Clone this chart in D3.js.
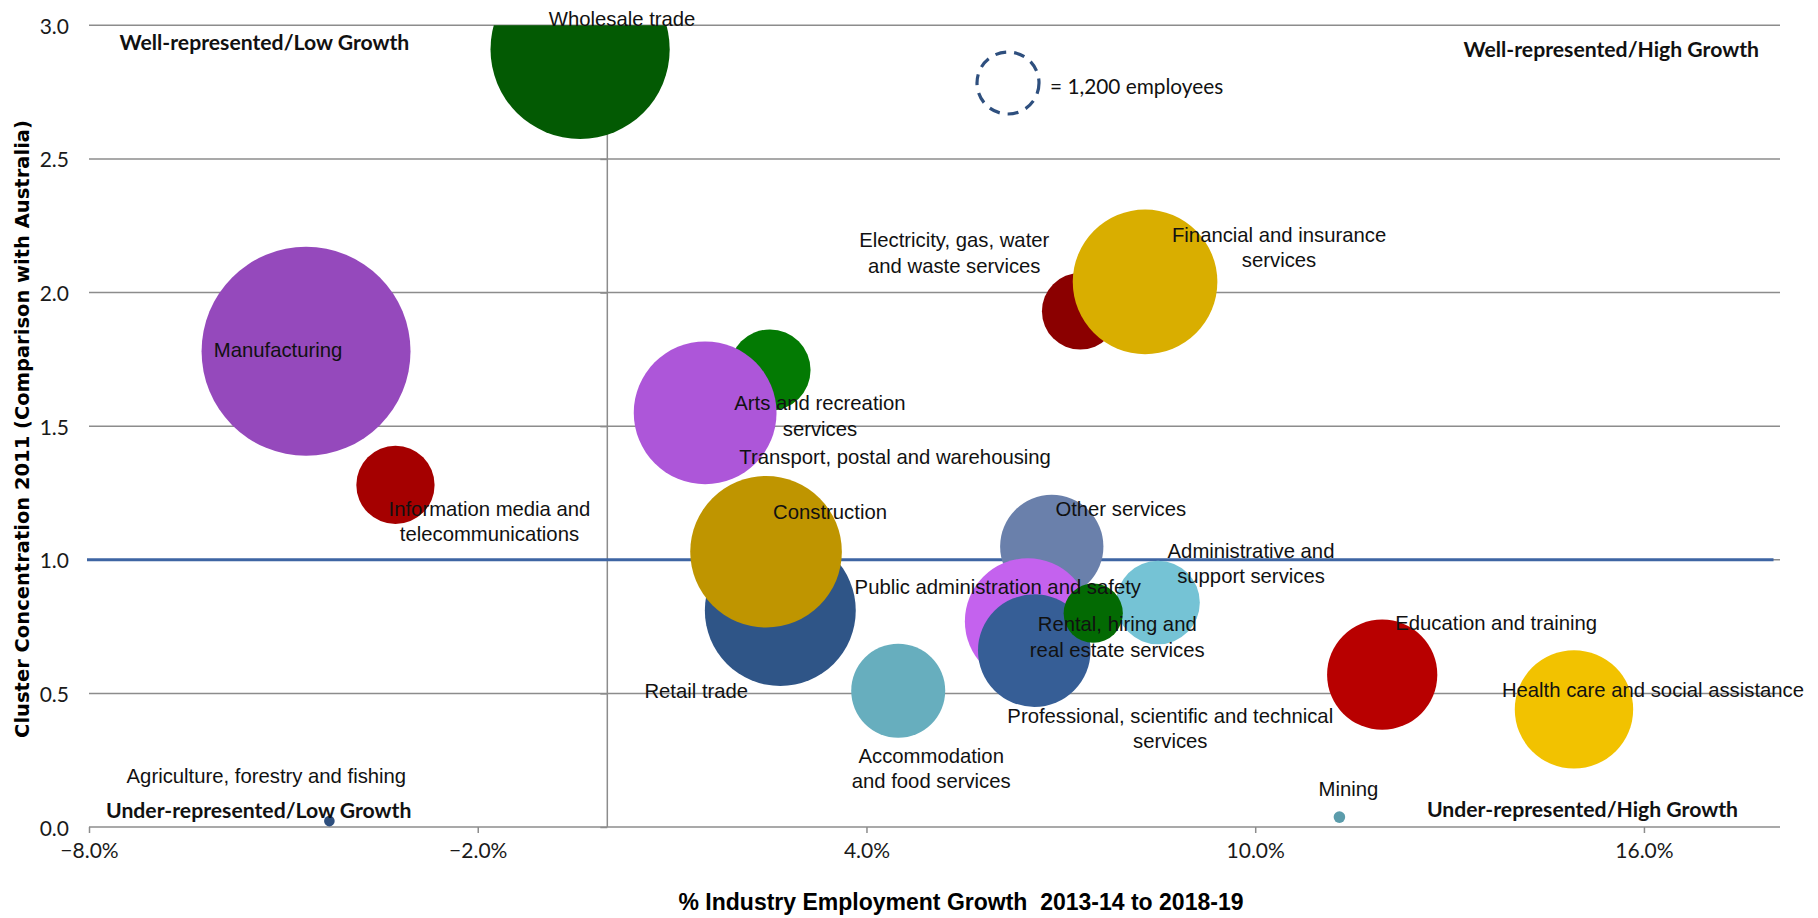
<!DOCTYPE html>
<html>
<head>
<meta charset="utf-8">
<script src="https://cdn.jsdelivr.net/npm/d3@7/dist/d3.min.js"></script>
<style>
  html, body { margin: 0; padding: 0; background: #fff; }
  svg { display: block; }
</style>
</head>
<body>
<svg id="chart" width="1818" height="918"></svg>
<script>
// ---------------- DATA ----------------
const categories = [
  "Agriculture, forestry and fishing", "Mining", "Manufacturing",
  "Electricity, gas, water and waste services", "Construction", "Wholesale trade",
  "Retail trade", "Accommodation and food services", "Transport, postal and warehousing",
  "Information media and telecommunications", "Financial and insurance services",
  "Rental, hiring and real estate services", "Professional, scientific and technical services",
  "Administrative and support services", "Public administration and safety",
  "Education and training", "Health care and social assistance",
  "Arts and recreation services", "Other services"
];
// % industry employment growth 2013-14 to 2018-19
const growth = [-4.29, 11.30, -4.65, 7.30, 2.45, -0.42, 2.67, 4.49, 1.51, -3.27, 8.30, 7.50, 6.59, 8.50, 6.49, 11.96, 14.92, 2.51, 6.86];
// Cluster concentration 2011 (comparison with Australia)
const concentration = [0.022, 0.037, 1.78, 1.93, 1.03, 2.91, 0.81, 0.51, 1.55, 1.28, 2.04, 0.80, 0.66, 0.84, 0.77, 0.57, 0.44, 1.71, 1.05];
// employees (bubble size)
const employees = [32, 38, 12400, 1670, 6530, 9120, 6470, 2510, 5790, 1740, 5940, 995, 3600, 1985, 4500, 3450, 3980, 1875, 3030];
const colors = ["#2e4f7e", "#5b9cab", "#9549bc", "#8b0000", "#bf9500", "#035a03", "#2f5587", "#67aebe", "#ad56d9", "#a50000", "#d9ae00", "#036a03", "#365e96", "#75c3d5", "#c462ee", "#b80000", "#f2c200", "#037a03", "#6a80ab"];
const labelLines = [
  ["Agriculture, forestry and fishing"], ["Mining"], ["Manufacturing"],
  ["Electricity, gas, water", "and waste services"], ["Construction"], ["Wholesale trade"],
  ["Retail trade"], ["Accommodation", "and food services"], ["Transport, postal and warehousing"],
  ["Information media and", "telecommunications"], ["Financial and insurance", "services"],
  ["Rental, hiring and", "real estate services"], ["Professional, scientific and technical", "services"],
  ["Administrative and", "support services"], ["Public administration and safety"],
  ["Education and training"], ["Health care and social assistance"],
  ["Arts and recreation", "services"], ["Other services"]
];
const xTicks = [-8, -2, 4, 10, 16];
const yTicks = [0, 0.5, 1.0, 1.5, 2.0, 2.5, 3.0];
const referenceLevel = 1.0;
const legendEmployees = 1200;
const legendText = "= 1,200 employees";
const quadrantLabels = ["Well-represented/Low Growth", "Well-represented/High Growth", "Under-represented/Low Growth", "Under-represented/High Growth"];
const xTitle = "% Industry Employment Growth  2013-14 to 2018-19";
const yTitle = "Cluster Concentration 2011 (Comparison with Australia)";

// ---------------- LAYOUT ----------------
const drawOrder = [0, 1, 2, 5, 9, 17, 8, 6, 4, 7, 3, 10, 18, 14, 12, 13, 11, 15, 16];
const labelDX = [-63, 9, -28, -126, 64, 42, -84, 33, 190, 94, 134, 24, 136, 93, -30, 114, 79, 50, 69];
const labelDY = [-45, -28, -1, -71, -40, -30, 80, 65, 44, 24, -47, 11, 65, -52, -34, -52, -19, 33, -37];
const lineGap = 25.5;

const svg = d3.select("#chart");
const W = 1818, H = 918;
const pLeft = 89, pRight = 1780, pTop = 25.3, pBottom = 827;

const x = d3.scaleLinear().domain([-8, 18.1]).range([pLeft, pRight]);
const y = d3.scaleLinear().domain([0, 3]).range([pBottom, pTop]);
const r = d3.scaleSqrt().domain([0, legendEmployees]).range([0, 32.5]);

const labelFont = "'Liberation Sans Narrow', 'Liberation Sans', Arial, sans-serif";
const calFont = "Lato, 'Open Sans', sans-serif";

svg.append("rect").attr("width", W).attr("height", H).attr("fill", "#fff");

svg.append("defs").append("clipPath").attr("id", "plotclip")
  .append("rect").attr("x", pLeft).attr("y", pTop).attr("width", pRight - pLeft).attr("height", pBottom - pTop);

// gridlines
svg.append("g").selectAll("line").data(yTicks.filter(d => d > 0)).join("line")
  .attr("x1", pLeft).attr("x2", pRight)
  .attr("y1", d => y(d)).attr("y2", d => y(d))
  .attr("stroke", "#8c8c8c").attr("stroke-width", 1.5);

// x axis (at y = 0)
const xAxis = d3.axisBottom(x).tickValues(xTicks).tickSize(6).tickFormat(d => d3.format(".1f")(d) + "%");
const gx = svg.append("g").attr("transform", `translate(0,${y(0)})`).call(xAxis);
gx.select(".domain").attr("stroke", "#8c8c8c").attr("stroke-width", 1.5).attr("d", `M${pLeft},0H${pRight}`);
gx.selectAll(".tick line").attr("stroke", "#8c8c8c").attr("stroke-width", 1.5);
gx.selectAll(".tick text").attr("font-family", calFont).attr("font-size", 21).attr("fill", "#1a1a1a").attr("dy", "1.05em");

// y axis line (crosses at 0%)
const yAxis = d3.axisLeft(y).tickValues(yTicks).tickSize(7).tickFormat("");
const gy = svg.append("g").attr("transform", `translate(${x(0)},0)`).call(yAxis);
gy.select(".domain").attr("stroke", "#8c8c8c").attr("stroke-width", 1.5).attr("d", `M0,${pTop}V${pBottom}`);
gy.selectAll(".tick line").attr("stroke", "#8c8c8c").attr("stroke-width", 1.5);

// y tick labels at the low side
svg.append("g").selectAll("text").data(yTicks).join("text")
  .attr("x", 69).attr("y", d => y(d))
  .attr("text-anchor", "end").attr("dominant-baseline", "central")
  .attr("font-family", calFont).attr("font-size", 21).attr("fill", "#1a1a1a")
  .text(d => d3.format(".1f")(d));

// reference line at 1.0
svg.append("line")
  .attr("x1", x(-8) - 2).attr("x2", x(18))
  .attr("y1", y(referenceLevel)).attr("y2", y(referenceLevel))
  .attr("stroke", "#3e65a3").attr("stroke-width", 3.2);

// bubbles
svg.append("g").attr("clip-path", "url(#plotclip)")
  .selectAll("circle").data(drawOrder).join("circle")
  .attr("cx", i => x(growth[i]))
  .attr("cy", i => y(concentration[i]))
  .attr("r", i => r(employees[i]))
  .attr("fill", i => colors[i]);

// bubble labels
const lg = svg.append("g").attr("font-family", labelFont).attr("font-size", 20.3).attr("fill", "#111");
categories.forEach((c, i) => {
  const cx = x(growth[i]) + labelDX[i];
  const cy = y(concentration[i]) + labelDY[i];
  const t = lg.append("text").attr("text-anchor", "middle");
  labelLines[i].forEach((line, k) => {
    t.append("tspan").attr("x", cx).attr("y", cy + k * lineGap)
      .attr("dominant-baseline", "central").text(line);
  });
});

// quadrant labels
const qPos = [
  {x: 119.5, y: 41.7, a: "start"},
  {x: 1759, y: 48.5, a: "end"},
  {x: 106, y: 810, a: "start"},
  {x: 1738, y: 809, a: "end"}
];
svg.append("g").selectAll("text").data(quadrantLabels).join("text")
  .attr("x", (d, i) => qPos[i].x).attr("y", (d, i) => qPos[i].y)
  .attr("text-anchor", (d, i) => qPos[i].a).attr("dominant-baseline", "central")
  .attr("font-family", calFont).attr("font-weight", "bold").attr("font-size", 21.2).attr("fill", "#111")
  .text(d => d);

// legend
svg.append("circle").attr("cx", 1008).attr("cy", 83).attr("r", r(legendEmployees) - 1.5)
  .attr("fill", "none").attr("stroke", "#2e4f7e").attr("stroke-width", 3.2)
  .attr("stroke-dasharray", "11,8");
svg.append("text").attr("x", 1050).attr("y", 85).attr("dominant-baseline", "central")
  .attr("font-family", calFont).attr("font-size", 20.8).attr("fill", "#111").text(legendText);

// axis titles
svg.append("text").attr("x", 961).attr("y", 902).attr("text-anchor", "middle").attr("dominant-baseline", "central")
  .attr("font-family", labelFont).attr("font-weight", "bold").attr("font-size", 23).attr("fill", "#000")
  .style("white-space", "pre").text(xTitle);
svg.append("text").attr("transform", "translate(22,429) rotate(-90)")
  .attr("text-anchor", "middle").attr("dominant-baseline", "central")
  .attr("font-family", "'DejaVu Sans', Verdana, sans-serif").attr("font-weight", "bold").attr("font-size", 19.5).attr("fill", "#000")
  .text(yTitle);
</script>
</body>
</html>
